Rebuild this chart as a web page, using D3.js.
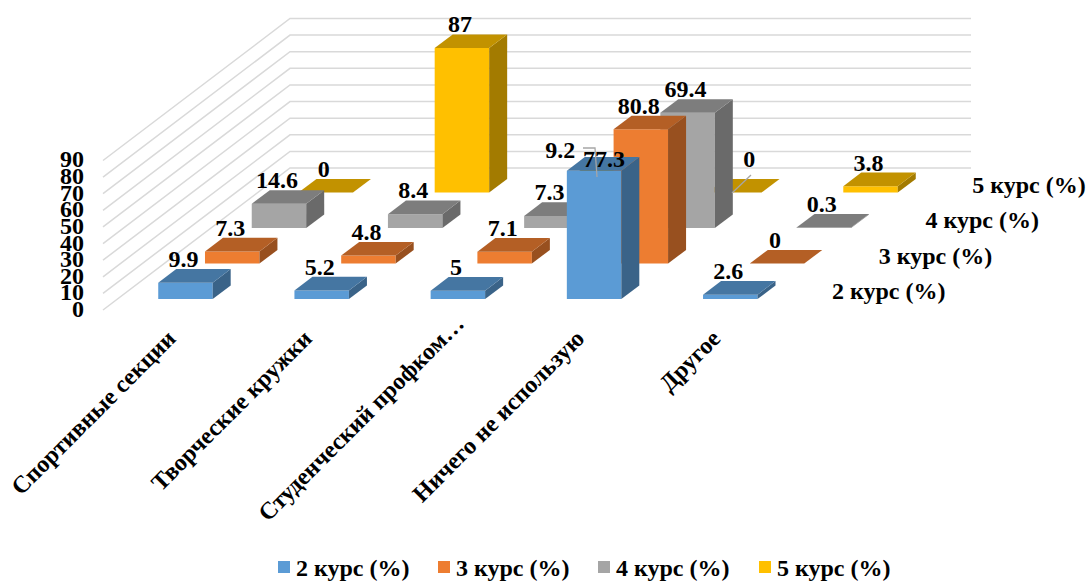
<!DOCTYPE html>
<html>
<head>
<meta charset="utf-8">
<script src="https://cdn.jsdelivr.net/npm/d3@7/dist/d3.min.js"></script>
<style>
body { margin: 0; background: #fff; }
text { font-family: "Liberation Serif", serif; font-weight: bold; fill: #000; }
</style>
</head>
<body>
<div id="chart-area"></div>
<script>
var categories = ["Спортивные секции", "Творческие кружки", "Студенческий профком…", "Ничего не использую", "Другое"];
var seriesNames = ["2 курс (%)", "3 курс (%)", "4 курс (%)", "5 курс (%)"];
var course2 = [9.9, 5.2, 5, 77.3, 2.6];
var course3 = [7.3, 4.8, 7.1, 80.8, 0];
var course4 = [14.6, 8.4, 7.3, 69.4, 0.3];
var course5 = [0, 87, 9.2, 0, 3.8];
var yTicks = [0, 10, 20, 30, 40, 50, 60, 70, 80, 90];

var seriesValues = [course2, course3, course4, course5];
var colors = ["#5B9BD5", "#ED7D31", "#A5A5A5", "#FFC000"];

var width = 1088;
var height = 581;

// floor of the 3d box: front edge plus the shift to the back wall
var floorLeft = 103, floorRight = 784, floorY = 310;
var depthX = 187, depthY = -142;
var barDepth = 0.385;  // part of a series slot taken by the bar

var x = d3.scaleBand().domain(d3.range(categories.length)).range([floorLeft, floorRight]).paddingInner(0.6).paddingOuter(0.3);
var depth = d3.scaleBand().domain(d3.range(seriesNames.length)).range([0, 1]);
var y = d3.scaleLinear().domain([0, 90]).range([floorY, floorY - 149.5]);

// plain projection, u = position along the front, d = 0..1 into the chart
function pt(u, d, v) {
    return [u + d * depthX, y(v) + d * depthY];
}

function shade(c, k) {
    var r = d3.rgb(c);
    return d3.rgb(r.r * k, r.g * k, r.b * k).formatHex();
}

var svg = d3.select("#chart-area").append("svg")
    .attr("width", width)
    .attr("height", height)
    .style("display", "block");

// walls
var line = d3.line();
svg.append("g").selectAll("path").data(yTicks).enter().append("path")
    .attr("d", (t) => line([pt(floorLeft, 0, t), pt(floorLeft, 1, t), pt(floorRight, 1, t)]))
    .attr("fill", "none")
    .attr("stroke", "#d9d9d9")
    .attr("stroke-width", 1.5);

// bars, back row first
var bars = [];
d3.range(seriesNames.length - 1, -1, -1).forEach((s) => {
    seriesValues[s].forEach((v, c) => {
        bars.push({ s: s, c: c, v: v });
    });
});

var d0 = (b) => depth(b.s) + (depth.bandwidth() * (1 - barDepth)) / 2;
var d1 = (b) => d0(b) + depth.bandwidth() * barDepth;
var x0 = (b) => x(b.c);
var x1 = (b) => x(b.c) + x.bandwidth();

var barG = svg.append("g").selectAll("g").data(bars).enter().append("g");

barG.filter((b) => b.v > 0).append("path")
    .attr("d", (b) => line([pt(x0(b), d0(b), 0), pt(x1(b), d0(b), 0), pt(x1(b), d0(b), b.v), pt(x0(b), d0(b), b.v)]) + "Z")
    .attr("fill", (b) => colors[b.s]);

barG.filter((b) => b.v > 0).append("path")
    .attr("d", (b) => line([pt(x1(b), d0(b), 0), pt(x1(b), d1(b), 0), pt(x1(b), d1(b), b.v), pt(x1(b), d0(b), b.v)]) + "Z")
    .attr("fill", (b) => shade(colors[b.s], 0.64));

barG.append("path")
    .attr("d", (b) => line([pt(x0(b), d0(b), b.v), pt(x1(b), d0(b), b.v), pt(x1(b), d1(b), b.v), pt(x0(b), d1(b), b.v)]) + "Z")
    .attr("fill", (b) => shade(colors[b.s], 0.76));

// leader lines of the dragged labels
var leaders = [
    [[583, 148], [595, 148], [597, 177]],
    [[751, 175], [732, 193]]
];
svg.append("g").selectAll("path").data(leaders).enter().append("path")
    .attr("d", (l) => line(l))
    .attr("fill", "none")
    .attr("stroke", "#a6a6a6")
    .attr("stroke-width", 1.3);

// value labels, three of them were dragged off their bars in the original
var moved = { "0-3": [12, 12], "3-2": [-36, -4], "3-3": [17, -10] };
svg.append("g").selectAll("text").data(bars).enter().append("text")
    .attr("x", (b) => {
        var m = moved[b.s + "-" + b.c] || [0, 0];
        return (x0(b) + x1(b)) / 2 + d0(b) * depthX - 2 + m[0];
    })
    .attr("y", (b) => {
        var m = moved[b.s + "-" + b.c] || [0, 0];
        return pt(0, d1(b), b.v)[1] - 2 + m[1];
    })
    .attr("text-anchor", "middle")
    .style("font-size", "24px")
    .text((b) => b.v);

// value axis
var yAxis = d3.axisLeft(y).tickValues(yTicks).tickSize(0).tickPadding(0);
var yG = svg.append("g").attr("transform", "translate(84,0)").call(yAxis);
yG.select(".domain").remove();
yG.selectAll("text").style("font-size", "24px").attr("font-family", null).attr("dy", "0.27em");

// category labels
var labelNudge = [[0, 0], [0, 0], [16, -15], [0, 0], [0, 0]];
svg.append("g").selectAll("text").data(categories).enter().append("text")
    .attr("transform", (d, i) => "translate(" + (x(i) + x.bandwidth() / 2 + 6 + labelNudge[i][0]) + "," + (340 + labelNudge[i][1]) + ") rotate(-45)")
    .attr("text-anchor", "end")
    .style("font-size", "24px")
    .text((d) => d);

// series labels along the depth axis
svg.append("g").selectAll("text").data(seriesNames).enter().append("text")
    .attr("x", (d, i) => floorRight + 48 + i * depthX / 4)
    .attr("y", (d, i) => 299 + i * depthY / 4)
    .style("font-size", "24px")
    .text((d) => d);

// legend
var legendX = [278, 438, 598, 759];
var legend = svg.append("g").selectAll("g").data(seriesNames).enter().append("g")
    .attr("transform", (d, i) => "translate(" + legendX[i] + ",561)");
legend.append("rect").attr("width", 12).attr("height", 12).attr("fill", (d, i) => colors[i]);
legend.append("text").attr("x", 18).attr("y", 15).style("font-size", "24px").text((d) => d);
</script>
</body>
</html>
